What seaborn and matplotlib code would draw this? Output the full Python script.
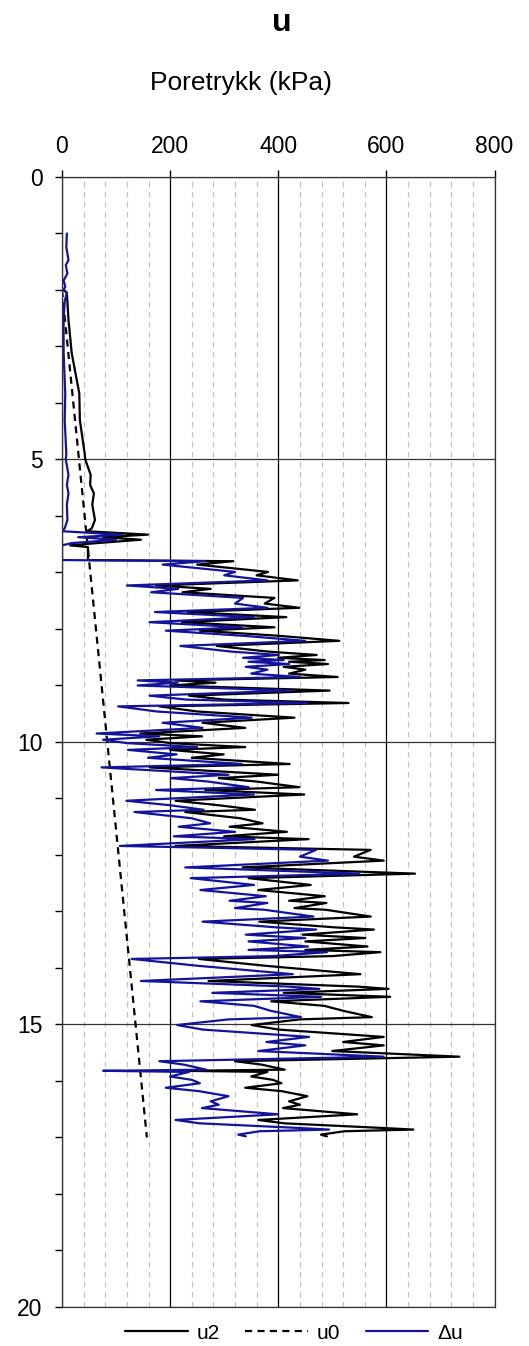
import numpy as np
import pandas as pd
import matplotlib
matplotlib.use("Agg")
import matplotlib.pyplot as plt
from matplotlib.ticker import MultipleLocator
import seaborn as sns

nan = np.nan

# depth (m) with u2 and delta-u (kPa)
depth = [1.00, 1.24, 1.47, 1.56, 1.71, 1.83, 1.94, 2.00, 2.05, 2.20, 2.53, 3.12, 3.83, 4.30,
         4.90, 5.00, 5.27, 5.45, 5.60, 5.80, 6.07, 6.22, 6.27, 6.33, 6.375, 6.42, 6.48, 6.52,
         6.55, 6.78, 6.80, 6.86, 6.99, 7.05, 7.14, 7.23, 7.29, 7.35, 7.45, 7.55, 7.625, 7.70,
         7.79, 7.88, 7.97, 8.03, 8.12, 8.21, 8.30, 8.40, 8.46, 8.51, 8.55, 8.58, 8.62, 8.67,
         8.72, 8.79, 8.85, 8.91, 8.95, 9.00, 9.09, 9.18, 9.25, 9.31, 9.37, 9.46, 9.57, 9.66,
         9.75, 9.85, 9.90, 9.96, 10.02, 10.09, 10.14, 10.22, 10.28, 10.39, 10.45, 10.58, 10.64,
         10.70, 10.80, 10.85, 10.93, 11.04, 11.12, 11.20, 11.24, 11.35, 11.44, 11.50, 11.59,
         11.67, 11.72, 11.84, 11.91, 12.03, 12.10, 12.22, 12.33, 12.41, 12.53, 12.62, 12.73,
         12.81, 12.85, 12.94, 12.97, 13.09, 13.18, 13.28, 13.32, 13.41, 13.47, 13.53, 13.62,
         13.68, 13.72, 13.79, 13.84, 13.96, 14.11, 14.23, 14.33, 14.37, 14.44, 14.51, 14.59,
         14.67, 14.76, 14.87, 14.91, 15.01, 15.09, 15.22, 15.31, 15.37, 15.47, 15.57, 15.65,
         15.71, 15.80, 15.82, 15.84, 15.92, 15.98, 16.04, 16.12, 16.18, 16.27, 16.36, 16.42,
         16.48, 16.59, 16.69, 16.75, 16.83, 16.86, 16.89, 16.95, 16.98]

u2 = [nan, nan, nan, nan, nan, nan, nan, 4, 9, 10, 12, 18, 32, 33,
      42, 43, 53, 52, 59, 56, 61, 55, 46, 159, 76, 146, 64, 15,
      48, 48, 317, 250, 381, 360, 436, 174, 275, 223, 393, 375, 439, 232,
      415, 222, 393, 255, 400, 513, 286, 381, 471, 400, 486, 420, 492, 410,
      450, 420, 510, 210, 284, 200, 495, 235, 300, 530, 180, 250, 430, 260,
      339, 145, 259, 156, 200, 339, 200, 299, 240, 421, 162, 400, 290,
      360, 439, 265, 448, 210, 290, 357, 228, 330, 371, 310, 416,
      300, 456, 210, 571, 540, 595, 334, 653, 345, 460, 363, 486,
      420, 489, 430, 488, 571, 365, 503, 577, 445, 561, 450, 565,
      450, 589, 500, 253, 375, 552, 271, 547, 604, 410, 607, 387,
      485, 521, 573, 440, 351, 400, 595, 520, 595, 500, 735, 320,
      369, 412, 220, 380, 350, 390, 406, 339, 406, 454, 420, 440,
      409, 546, 363, 412, 589, 650, 522, 479, 490]

du = [9, 8, 12, 7, 10, 3, 6, 3, 9, 5, 3, 3, 6, 5,
      8, 7, 12, 9, 12, 9, 10, 5, 0, 112, 30, 100, 18, 0,
      0, 0, 265, 186, 320, 300, 380, 120, 215, 165, 335, 320, 380, 172,
      355, 162, 333, 192, 335, 450, 219, 313, 401, 335, 410, 345, 420, 340,
      380, 350, 440, 140, 214, 140, 424, 162, 230, 454, 104, 175, 351, 186,
      260, 64, 180, 76, 120, 250, 122, 212, 159, 333, 73, 308, 201,
      270, 345, 174, 355, 119, 200, 262, 134, 240, 274, 216, 320,
      207, 356, 107, 470, 440, 492, 228, 550, 238, 355, 256, 377,
      310, 380, 320, 375, 465, 260, 395, 470, 340, 450, 345, 455,
      345, 490, 390, 129, 250, 427, 146, 420, 476, 278, 479, 256,
      355, 387, 442, 308, 213, 260, 457, 378, 450, 363, 595, 180,
      225, 267, 76, 235, 200, 240, 255, 192, 253, 308, 275, 290,
      259, 400, 210, 255, 435, 494, 365, 326, 340]

# hydrostatic pore pressure (straight line)
u0_depth = [2.0, 17.0]
u0 = [0, 157]

x_major = [0, 200, 400, 600, 800]

df = pd.DataFrame({"depth": depth, "u2": u2, "du": du})
df0 = pd.DataFrame({"depth": u0_depth, "u0": u0})

sns.set_style("white")
plt.rcParams["font.family"] = ["Liberation Sans", "DejaVu Sans"]
plt.rcParams["text.color"] = "black"
plt.rcParams["xtick.color"] = "black"
plt.rcParams["ytick.color"] = "black"

fig = plt.figure(figsize=(5.29, 13.46), dpi=100)
ax = fig.add_axes([0.1172, 0.029, 0.8176, 0.8395])

blue = "#14149A"
sns.lineplot(data=df.dropna(subset=["u2"]), x="u2", y="depth", sort=False, orient="y",
             estimator=None, color="black", lw=1.6, label="u2", ax=ax)
sns.lineplot(data=df0, x="u0", y="depth", sort=False, orient="y", estimator=None,
             color="black", lw=1.6, dashes=False, label="u0", ax=ax)
ax.lines[-1].set_dashes((3.2, 2.4))
sns.lineplot(data=df, x="du", y="depth", sort=False, orient="y", estimator=None,
             color=blue, lw=1.6, label="\u0394u", ax=ax)

ax.set_xlim(0, 800)
ax.set_ylim(20, 0)
ax.xaxis.tick_top()
ax.set_xticks(x_major)
ax.xaxis.set_minor_locator(MultipleLocator(40))
ax.yaxis.set_major_locator(MultipleLocator(5))
ax.yaxis.set_minor_locator(MultipleLocator(1))
ax.tick_params(axis="x", which="major", top=True, bottom=False, direction="out",
               length=5, width=1, labelsize=16.5, pad=9)
ax.tick_params(axis="x", which="minor", top=False, bottom=False)
ax.tick_params(axis="y", which="both", left=True, direction="out", length=5, width=1,
               labelsize=16.5, pad=9)
ax.set_xlabel("")
ax.set_ylabel("")

ax.grid(False)
ax.xaxis.grid(True, which="major", color="black", lw=0.9)
ax.yaxis.grid(True, which="major", color="#333333", lw=0.9)
ax.xaxis.grid(True, which="minor", color="#c4c4c4", lw=0.9, ls=(0, (4.5, 3.5)))
ax.set_axisbelow(True)
for s in ax.spines.values():
    s.set_color("#333333")
    s.set_linewidth(0.9)

fig.text(0.533, 0.983, "u", ha="center", va="center", fontsize=23, fontweight="bold")
fig.text(0.455, 0.9385, "Poretrykk (kPa)", ha="center", va="center", fontsize=19)

handles, labels = ax.get_legend_handles_labels()
ax.get_legend().remove()
fig.legend(handles, labels, loc="center", bbox_to_anchor=(0.556, 0.0095), ncol=3,
           frameon=False, fontsize=15, handlelength=3.0, handletextpad=0.45,
           columnspacing=1.2, borderpad=0)

fig.savefig("out.png", dpi=100)
